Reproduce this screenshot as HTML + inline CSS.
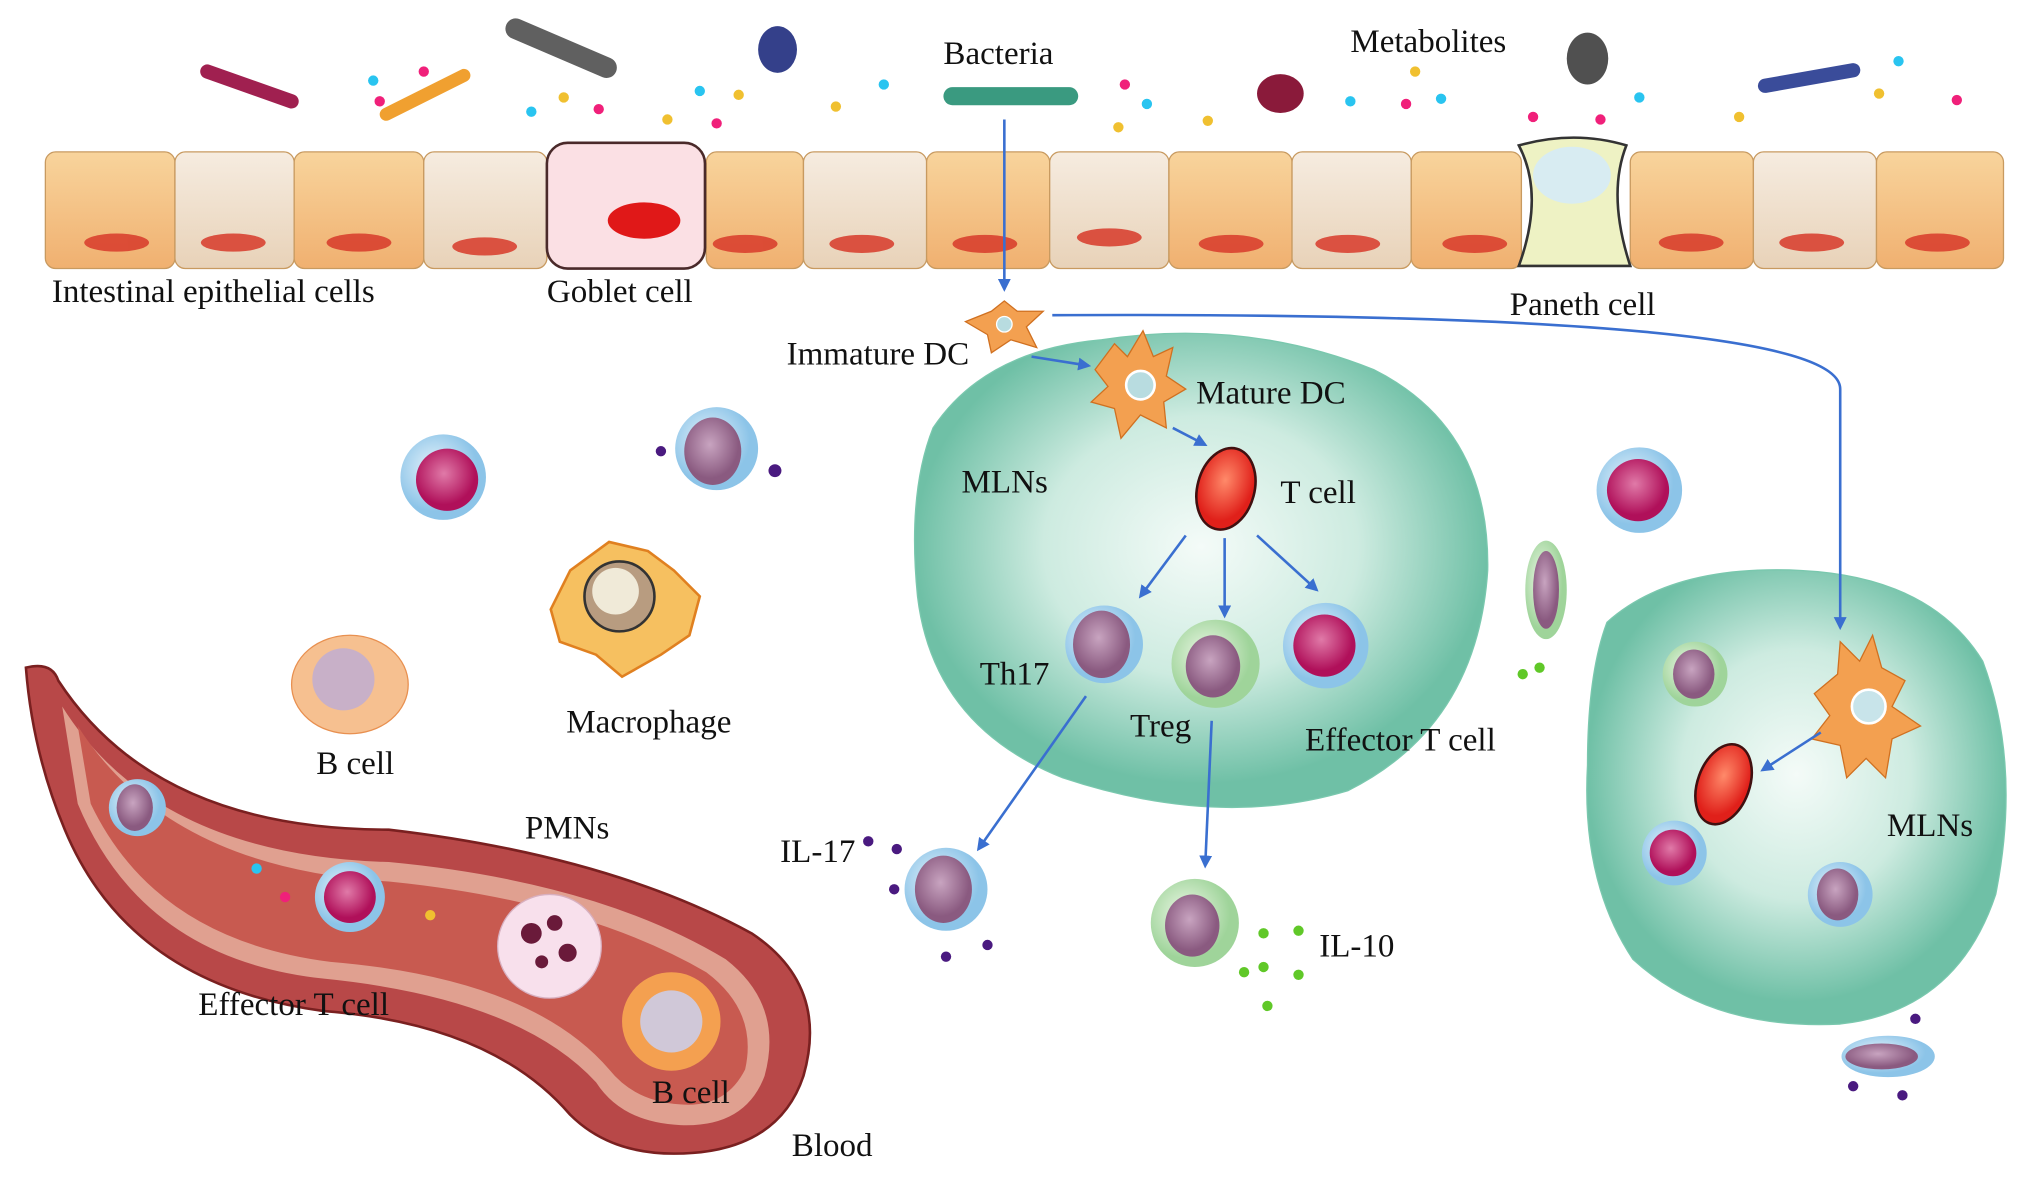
<!DOCTYPE html>
<html><head><meta charset="utf-8"><style>
html,body{margin:0;padding:0;background:#fff}
svg{display:block}
text{font-family:"Liberation Serif",serif;font-size:25.5px;fill:#111}
</style></head><body>
<svg width="2032" height="1185" viewBox="0 0 1568 914" xmlns="http://www.w3.org/2000/svg">
<defs>
<radialGradient id="mag" cx="45%" cy="40%"><stop offset="0" stop-color="#e07aa8"/><stop offset="1" stop-color="#b0105a"/></radialGradient>
<radialGradient id="pur" cx="45%" cy="40%"><stop offset="0" stop-color="#c8a4c0"/><stop offset="1" stop-color="#8a5a80"/></radialGradient>
<radialGradient id="blue" cx="40%" cy="40%"><stop offset="0" stop-color="#e8f4fb"/><stop offset="1" stop-color="#8cc4e8"/></radialGradient>
<radialGradient id="grn" cx="40%" cy="40%"><stop offset="0" stop-color="#eef8e8"/><stop offset="1" stop-color="#9fd49a"/></radialGradient>
<radialGradient id="mln" cx="50%" cy="45%"><stop offset="0" stop-color="#f4fbf8"/><stop offset="0.55" stop-color="#cdebe0"/><stop offset="1" stop-color="#6fc0a6"/></radialGradient>
<radialGradient id="red" cx="45%" cy="40%"><stop offset="0" stop-color="#ff8a6a"/><stop offset="1" stop-color="#e0201a"/></radialGradient>
<linearGradient id="orc" x1="0" y1="0" x2="0" y2="1"><stop offset="0" stop-color="#f8d49c"/><stop offset="1" stop-color="#f0b070"/></linearGradient>
<linearGradient id="bgc" x1="0" y1="0" x2="0" y2="1"><stop offset="0" stop-color="#f6ece0"/><stop offset="1" stop-color="#e8d2b8"/></linearGradient>
<marker id="ar" markerWidth="10" markerHeight="10" refX="8" refY="5" orient="auto" markerUnits="userSpaceOnUse"><path d="M0,0 L10,5 L0,10 z" fill="#3a6fd0"/></marker>
</defs>

<g stroke="#c89a60" stroke-width="1">
<rect x="35" y="117" width="100" height="90" rx="8" fill="url(#orc)"/>
<rect x="135" y="117" width="92" height="90" rx="8" fill="url(#bgc)"/>
<rect x="227" y="117" width="100" height="90" rx="8" fill="url(#orc)"/>
<rect x="327" y="117" width="95" height="90" rx="8" fill="url(#bgc)"/>
<rect x="545" y="117" width="75" height="90" rx="8" fill="url(#orc)"/>
<rect x="620" y="117" width="95" height="90" rx="8" fill="url(#bgc)"/>
<rect x="715" y="117" width="95" height="90" rx="8" fill="url(#orc)"/>
<rect x="810" y="117" width="92" height="90" rx="8" fill="url(#bgc)"/>
<rect x="902" y="117" width="95" height="90" rx="8" fill="url(#orc)"/>
<rect x="997" y="117" width="92" height="90" rx="8" fill="url(#bgc)"/>
<rect x="1089" y="117" width="85" height="90" rx="8" fill="url(#orc)"/>
<rect x="1258" y="117" width="95" height="90" rx="8" fill="url(#orc)"/>
<rect x="1353" y="117" width="95" height="90" rx="8" fill="url(#bgc)"/>
<rect x="1448" y="117" width="98" height="90" rx="8" fill="url(#orc)"/>
</g>
<g fill="#d83a2a" opacity="0.85">
<ellipse cx="90" cy="187" rx="25" ry="7"/><ellipse cx="180" cy="187" rx="25" ry="7"/><ellipse cx="277" cy="187" rx="25" ry="7"/><ellipse cx="374" cy="190" rx="25" ry="7"/><ellipse cx="575" cy="188" rx="25" ry="7"/><ellipse cx="665" cy="188" rx="25" ry="7"/><ellipse cx="760" cy="188" rx="25" ry="7"/><ellipse cx="856" cy="183" rx="25" ry="7"/><ellipse cx="950" cy="188" rx="25" ry="7"/><ellipse cx="1040" cy="188" rx="25" ry="7"/><ellipse cx="1138" cy="188" rx="25" ry="7"/><ellipse cx="1305" cy="187" rx="25" ry="7"/><ellipse cx="1398" cy="187" rx="25" ry="7"/><ellipse cx="1495" cy="187" rx="25" ry="7"/>
</g>
<rect x="422" y="110" width="122" height="97" rx="16" fill="#fbe0e4" stroke="#4a2a2a" stroke-width="2"/>
<ellipse cx="497" cy="170" rx="28" ry="14" fill="#e01818"/>
<path d="M1172,112 Q1215,100 1255,112 Q1240,150 1258,205 L1172,205 Q1192,150 1172,112 z" fill="#eef2c4" stroke="#333" stroke-width="2"/>
<ellipse cx="1213" cy="135" rx="30" ry="22" fill="#d8ecf2"/>

<g stroke-linecap="round">
<line x1="160" y1="55" x2="225" y2="78" stroke="#a02050" stroke-width="11"/>
<line x1="298" y1="88" x2="358" y2="58" stroke="#f0a030" stroke-width="10"/>
<line x1="398" y1="22" x2="468" y2="52" stroke="#606060" stroke-width="16"/>
<line x1="735" y1="74" x2="825" y2="74" stroke="#3a9a80" stroke-width="14"/>
<line x1="1362" y1="66" x2="1430" y2="54" stroke="#3a4c9a" stroke-width="11"/>
</g>
<ellipse cx="600" cy="38" rx="15" ry="18" fill="#34408a"/>
<ellipse cx="988" cy="72" rx="18" ry="15" fill="#8a1a3a"/>
<ellipse cx="1225" cy="45" rx="16" ry="20" fill="#505050"/>
<g>
<circle cx="288" cy="62" r="4" fill="#29c4f0"/><circle cx="327" cy="55" r="4" fill="#f0207a"/><circle cx="293" cy="78" r="4" fill="#f0207a"/><circle cx="410" cy="86" r="4" fill="#29c4f0"/><circle cx="435" cy="75" r="4" fill="#f0c030"/><circle cx="462" cy="84" r="4" fill="#f0207a"/><circle cx="515" cy="92" r="4" fill="#f0c030"/><circle cx="540" cy="70" r="4" fill="#29c4f0"/><circle cx="553" cy="95" r="4" fill="#f0207a"/><circle cx="570" cy="73" r="4" fill="#f0c030"/><circle cx="645" cy="82" r="4" fill="#f0c030"/><circle cx="682" cy="65" r="4" fill="#29c4f0"/><circle cx="868" cy="65" r="4" fill="#f0207a"/><circle cx="885" cy="80" r="4" fill="#29c4f0"/><circle cx="863" cy="98" r="4" fill="#f0c030"/><circle cx="932" cy="93" r="4" fill="#f0c030"/><circle cx="1042" cy="78" r="4" fill="#29c4f0"/><circle cx="1085" cy="80" r="4" fill="#f0207a"/><circle cx="1092" cy="55" r="4" fill="#f0c030"/><circle cx="1112" cy="76" r="4" fill="#29c4f0"/><circle cx="1183" cy="90" r="4" fill="#f0207a"/><circle cx="1235" cy="92" r="4" fill="#f0207a"/><circle cx="1265" cy="75" r="4" fill="#29c4f0"/><circle cx="1342" cy="90" r="4" fill="#f0c030"/><circle cx="1450" cy="72" r="4" fill="#f0c030"/><circle cx="1465" cy="47" r="4" fill="#29c4f0"/><circle cx="1510" cy="77" r="4" fill="#f0207a"/>
</g>

<path d="M720,330 Q760,270 850,262 Q960,245 1060,285 Q1150,330 1148,440 Q1140,560 1040,610 Q940,640 820,600 Q720,560 708,460 Q700,380 720,330 z" fill="url(#mln)" stroke="#7ac8ae"/>
<path d="M1240,480 Q1290,435 1390,440 Q1490,445 1530,510 Q1560,590 1540,690 Q1510,780 1420,790 Q1320,795 1260,740 Q1220,680 1225,590 Q1225,520 1240,480 z" fill="url(#mln)" stroke="#7ac8ae"/>

<path d="M20,515 Q40,510 45,525 Q120,640 300,640 Q470,660 580,720 Q640,760 620,830 Q600,890 520,890 Q470,890 440,860 Q380,790 250,780 Q100,760 50,640 Q25,580 20,515 z" fill="#b84848" stroke="#7a2020" stroke-width="2"/>
<path d="M48,545 Q120,660 300,665 Q460,680 560,740 Q605,775 590,830 Q575,870 525,868 Q480,866 460,835 Q400,770 250,755 Q110,740 60,620 z" fill="#e0a090"/>
<path d="M60,560 Q130,670 300,680 Q450,695 545,750 Q585,780 575,825 Q560,855 525,852 Q490,850 470,825 Q410,755 255,742 Q120,725 70,620 z" fill="#c85a50"/>

<path d="M745,248 L765,240 L775,232 L785,240 L805,240 L792,252 L800,268 L780,262 L765,272 L762,258 z" fill="#f3a050" stroke="#d07020"/>
<circle cx="775" cy="250" r="6" fill="#b8dce0" stroke="#fff"/>
<path d="M845,285 L860,265 L870,275 L882,255 L890,275 L905,268 L900,290 L915,300 L898,310 L900,330 L880,320 L865,338 L860,315 L842,310 L855,298 z" fill="#f3a050" stroke="#d07020"/>
<circle cx="880" cy="297" r="11" fill="#b8dce0" stroke="#fff" stroke-width="2"/>
<path d="M1400,535 L1418,520 L1420,495 L1435,510 L1445,490 L1452,515 L1470,525 L1460,545 L1482,560 L1460,570 L1455,600 L1440,585 L1425,600 L1420,575 L1398,570 L1412,552 z" fill="#f3a050" stroke="#d07020"/>
<circle cx="1442" cy="545" r="13" fill="#c8e4ea" stroke="#fff" stroke-width="2"/>

<ellipse cx="946" cy="377" rx="22" ry="32" fill="url(#red)" stroke="#401010" stroke-width="2" transform="rotate(15 946 377)"/>
<ellipse cx="1330" cy="605" rx="20" ry="32" fill="url(#red)" stroke="#401010" stroke-width="2" transform="rotate(20 1330 605)"/>

<g>
<circle cx="342" cy="368" r="33" fill="url(#blue)"/><circle cx="345" cy="370" r="24" fill="url(#mag)"/>
<circle cx="553" cy="346" r="32" fill="url(#blue)"/><ellipse cx="550" cy="348" rx="22" ry="26" fill="url(#pur)"/>
<circle cx="1265" cy="378" r="33" fill="url(#blue)"/><circle cx="1264" cy="378" r="24" fill="url(#mag)"/>
<ellipse cx="1193" cy="455" rx="16" ry="38" fill="url(#grn)"/><ellipse cx="1193" cy="455" rx="10" ry="30" fill="url(#pur)"/>
<circle cx="852" cy="497" r="30" fill="url(#blue)"/><ellipse cx="850" cy="497" rx="22" ry="26" fill="url(#pur)"/>
<circle cx="938" cy="512" r="34" fill="url(#grn)"/><ellipse cx="936" cy="514" rx="21" ry="24" fill="url(#pur)"/>
<circle cx="1023" cy="498" r="33" fill="url(#blue)"/><circle cx="1022" cy="498" r="24" fill="url(#mag)"/>
<circle cx="730" cy="686" r="32" fill="url(#blue)"/><ellipse cx="728" cy="686" rx="22" ry="26" fill="url(#pur)"/>
<circle cx="922" cy="712" r="34" fill="url(#grn)"/><ellipse cx="920" cy="714" rx="21" ry="24" fill="url(#pur)"/>
<circle cx="1308" cy="520" r="25" fill="url(#grn)"/><ellipse cx="1307" cy="520" rx="16" ry="19" fill="url(#pur)"/>
<circle cx="1292" cy="658" r="25" fill="url(#blue)"/><circle cx="1291" cy="658" r="18" fill="url(#mag)"/>
<circle cx="1420" cy="690" r="25" fill="url(#blue)"/><ellipse cx="1418" cy="690" rx="16" ry="20" fill="url(#pur)"/>
<ellipse cx="1457" cy="815" rx="36" ry="16" fill="url(#blue)"/><ellipse cx="1452" cy="815" rx="28" ry="10" fill="url(#pur)"/>
<circle cx="106" cy="623" r="22" fill="url(#blue)"/><ellipse cx="104" cy="623" rx="14" ry="18" fill="url(#pur)"/>
<circle cx="270" cy="692" r="27" fill="url(#blue)"/><circle cx="270" cy="692" r="20" fill="url(#mag)"/>
<circle cx="424" cy="730" r="40" fill="#f8e0ec" stroke="#d8b0c0"/>
<g fill="#6a1a3a"><circle cx="410" cy="720" r="8"/><circle cx="428" cy="712" r="6"/><circle cx="438" cy="735" r="7"/><circle cx="418" cy="742" r="5"/></g>
<circle cx="518" cy="788" r="38" fill="#f4a050"/><circle cx="518" cy="788" r="24" fill="#d0c8d8"/>
<ellipse cx="270" cy="528" rx="45" ry="38" fill="#f6c090" stroke="#e89050"/><circle cx="265" cy="524" r="24" fill="#c8b0c8"/>
<path d="M440,440 L470,418 L500,425 L520,440 L540,460 L532,490 L510,505 L480,522 L460,505 L432,495 L425,470 z" fill="#f6c060" stroke="#e08020" stroke-width="2"/>
<circle cx="478" cy="460" r="27" fill="#b89c80" stroke="#333" stroke-width="2"/><circle cx="475" cy="456" r="18" fill="#f0ead8"/>
</g>
<g fill="#4a1a80"><circle cx="510" cy="348" r="4"/><circle cx="598" cy="363" r="5"/><circle cx="670" cy="649" r="4"/><circle cx="692" cy="655" r="4"/><circle cx="690" cy="686" r="4"/><circle cx="730" cy="738" r="4"/><circle cx="762" cy="729" r="4"/><circle cx="1478" cy="786" r="4"/><circle cx="1430" cy="838" r="4"/><circle cx="1468" cy="845" r="4"/></g>
<g fill="#60c828"><circle cx="1175" cy="520" r="4"/><circle cx="1188" cy="515" r="4"/><circle cx="975" cy="720" r="4"/><circle cx="1002" cy="718" r="4"/><circle cx="960" cy="750" r="4"/><circle cx="975" cy="746" r="4"/><circle cx="1002" cy="752" r="4"/><circle cx="978" cy="776" r="4"/></g>
<circle cx="198" cy="670" r="4" fill="#29c4f0"/><circle cx="220" cy="692" r="4" fill="#f0207a"/><circle cx="332" cy="706" r="4" fill="#f0c030"/>

<g stroke="#3a6fd0" stroke-width="2" fill="none" marker-end="url(#ar)">
<line x1="775" y1="92" x2="775" y2="223"/>
<path d="M812,243 Q1420,240 1420,300 L1420,484"/>
<line x1="796" y1="275" x2="840" y2="282"/>
<line x1="905" y1="330" x2="930" y2="343"/>
<line x1="915" y1="413" x2="880" y2="460"/>
<line x1="945" y1="415" x2="945" y2="475"/>
<line x1="970" y1="413" x2="1016" y2="455"/>
<line x1="838" y1="537" x2="755" y2="655"/>
<line x1="935" y1="556" x2="930" y2="668"/>
<line x1="1405" y1="565" x2="1360" y2="594"/>
</g>

<text x="40" y="233">Intestinal epithelial cells</text>
<text x="422" y="233">Goblet cell</text>
<text x="1165" y="243">Paneth cell</text>
<text x="728" y="49">Bacteria</text>
<text x="1042" y="40">Metabolites</text>
<text x="607" y="281">Immature DC</text>
<text x="923" y="311">Mature DC</text>
<text x="742" y="380">MLNs</text>
<text x="988" y="388">T cell</text>
<text x="756" y="528">Th17</text>
<text x="872" y="568">Treg</text>
<text x="1007" y="579">Effector T cell</text>
<text x="602" y="665">IL-17</text>
<text x="1018" y="738">IL-10</text>
<text x="437" y="565">Macrophage</text>
<text x="244" y="597">B cell</text>
<text x="405" y="647">PMNs</text>
<text x="153" y="783">Effector T cell</text>
<text x="503" y="851">B cell</text>
<text x="611" y="892">Blood</text>
<text x="1456" y="645">MLNs</text>
</svg>
</body></html>
